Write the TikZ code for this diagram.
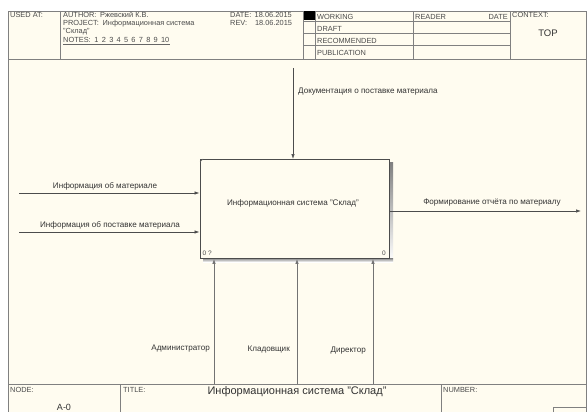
\documentclass[tikz,border=0pt]{standalone}
\usepackage{fontspec}
\setmainfont{Liberation Sans}
\usetikzlibrary{arrows.meta}
\definecolor{paper}{HTML}{FFFCF0}
\definecolor{ln}{HTML}{808080}
\definecolor{shade}{HTML}{A8A8A0}
\tikzset{
  frameline/.style={draw=ln, line width=0.8pt},
  hdr/.style={font=\fontsize{7.4}{8}\selectfont, text=black!70, inner sep=0pt, anchor=base west},
  lbl/.style={font=\fontsize{8.1}{9}\selectfont, text=black!80, inner sep=0pt},
  flow/.style={draw=black!70, line width=0.7pt, -{Latex[length=5pt,width=3.5pt]}},
  mech/.style={draw=black!55, line width=0.9pt, -{Latex[length=5pt,width=3.5pt]}},
  actbox/.style={draw=black!70, line width=0.8pt, fill=paper, minimum width=189pt, minimum height=99pt, inner sep=0pt}
}
\begin{document}
\begin{tikzpicture}[x=1pt,y=-1pt]
\useasboundingbox (0,0) rectangle (587,412);
\fill[white] (0,0) rectangle (587,412);
\fill[paper] (8,11) rectangle (586,412);
% header
\draw[frameline] (8,11) rectangle (586,59);
\draw[frameline] (60,11) -- (60,59);
\draw[frameline] (303,11) -- (303,59);
\draw[frameline] (315,11) -- (315,59);
\draw[frameline] (413,11) -- (413,59);
\draw[frameline] (510,11) -- (510,59);
\draw[frameline] (303,21) -- (510,21);
\draw[frameline] (303,33) -- (510,33);
\draw[frameline] (303,45) -- (510,45);
\fill[black] (303.5,11.5) rectangle (314.5,20.5);
\node[hdr] (usedat) at (10,18) {USED AT:};
\node[hdr] (author) at (63,18) {AUTHOR:\enspace Ржевский К.В.};
\node[hdr] (project) at (63,26) {PROJECT:\enspace Информационная система};
\node[hdr] (project2) at (63,34) {"Склад"};
\node[hdr] (notes) at (63,43) {NOTES:\enspace 1\, 2\, 3\, 4\, 5\, 6\, 7\, 8\, 9\, 10};
\draw[draw=black!60, line width=0.4pt] (63,44.5) -- (notes.base east |- 0,44.5);
\node[hdr] (date) at (230,18) {DATE:\, 18.06.2015};
\node[hdr] (rev) at (230,26) {REV:\enspace\; 18.06.2015};
\node[hdr] (working) at (317,19.5) {WORKING};
\node[hdr] (draft) at (317,31.5) {DRAFT};
\node[hdr] (recommended) at (317,43.5) {RECOMMENDED};
\node[hdr] (publication) at (317,56) {PUBLICATION};
\node[hdr] (reader) at (415,19.5) {READER};
\node[hdr, anchor=base east] (rdate) at (508,19.5) {DATE};
\node[hdr] (context) at (512,18) {CONTEXT:};
\node[font=\fontsize{9.5}{10}\selectfont, text=black!80, inner sep=0pt] (top) at (548,33) {TOP};
% main frame
\draw[frameline] (8,59) -- (8,412);
\draw[frameline] (586,59) -- (586,412);
% bottom box
\draw[frameline] (8,384) -- (586,384);
\draw[frameline] (120,384) -- (120,412);
\draw[frameline] (441,384) -- (441,412);
\node[hdr] (nodel) at (10,392) {NODE:};
\node[hdr] (titlel) at (123,392) {TITLE:};
\node[hdr] (numberl) at (443,392) {NUMBER:};
\node[font=\fontsize{9}{10}\selectfont, text=black!80, inner sep=0pt] (anum) at (64,407) {A-0};
\node[font=\fontsize{11}{12}\selectfont, text=black!80, inner sep=0pt] (title) at (297,392) {Информационная система "Склад"};
\draw[frameline] (553,407) -- (586,407);
\draw[frameline] (553,407) -- (553,412);
% activity box with shadow
\fill[shade] (389,162) rectangle (393,262);
\fill[shade] (203,258) rectangle (393,262);
\node[actbox, anchor=north west] (act) at (199.5,159) {};
\node[lbl] (acttext) at (293,203) {Информационная система "Склад"};
\node[font=\fontsize{6.5}{7}\selectfont, text=black!70, inner sep=0pt, anchor=south west] (n0q) at (202.5,255.5) {0 ?};
\node[font=\fontsize{6.5}{7}\selectfont, text=black!70, inner sep=0pt, anchor=south east] (n0) at (386,255.5) {0};
\draw[black!60, line width=0.4pt] (200,162) -- (203,159);
% input arrows
\coordinate (in1) at (19,193);
\coordinate (in2) at (19,232);
\draw[flow] (in1) -- (in1 -| act.west);
\draw[flow] (in2) -- (in2 -| act.west);
\node[lbl] (l1) at (105,186) {Информация об материале};
\node[lbl] (l2) at (110,225) {Информация об поставке материала};
% output arrow
\coordinate (out) at (581,211);
\draw[flow] (out -| act.east) -- (out);
\node[lbl] (l3) at (492,203) {Формирование отчёта по материалу};
% control arrow
\coordinate (ctl) at (293,68);
\draw[flow] (ctl) -- (ctl |- act.north);
\node[lbl, anchor=west] (l4) at (298,92) {Документация о поставке материала};
% mechanism arrows
\coordinate (m1) at (214,384);
\coordinate (m2) at (297,384);
\coordinate (m3) at (373,384);
\draw[mech] (m1) -- (m1 |- act.south);
\draw[mech] (m2) -- (m2 |- act.south);
\draw[mech] (m3) -- (m3 |- act.south);
\node[lbl, anchor=east] (l5) at (210,349) {Администратор};
\node[lbl, anchor=east] (l6) at (290,350) {Кладовщик};
\node[lbl, anchor=east] (l7) at (366,351) {Директор};
\end{tikzpicture}
\end{document}
